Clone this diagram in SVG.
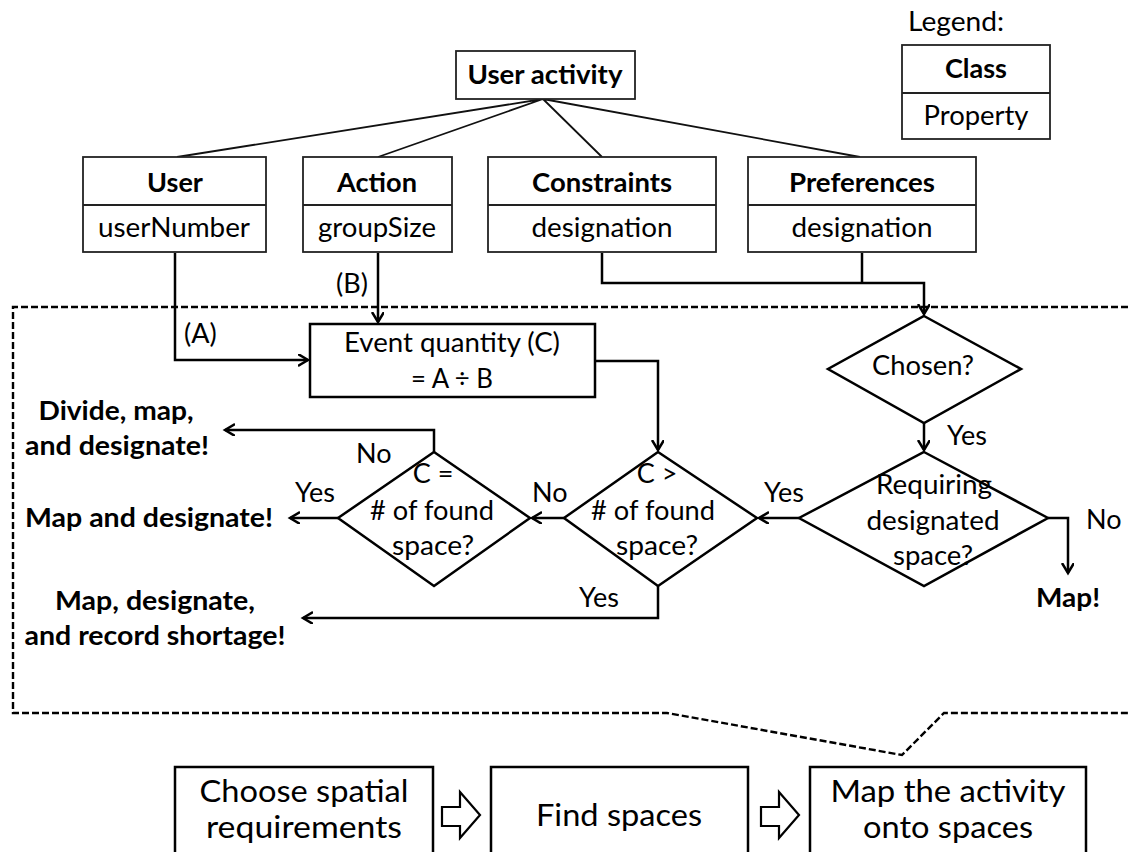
<svg xmlns="http://www.w3.org/2000/svg" width="1128" height="852" viewBox="0 0 1128 852">
  <style>
    text { font-family: Lato, "Open Sans", "Liberation Sans", sans-serif; fill: #000; }
    .t { font-size: 27px; text-anchor: middle; }
    .b { font-size: 27px; font-weight: bold; text-anchor: middle; }
    .l { font-size: 27px; }
    .big { font-size: 31px; text-anchor: middle; }
    .cls { fill: #fff; stroke: #222; stroke-width: 1.8; }
    .box { fill: #fff; stroke: #000; stroke-width: 2.5; }
    .dia { fill: none; stroke: #000; stroke-width: 2.5; }
    .tree { fill: none; stroke: #111; stroke-width: 1.8; }
    .wire { fill: none; stroke: #000; stroke-width: 2.5; }
    .arrow { fill: none; stroke: #000; stroke-width: 2.5; marker-end: url(#head); }
    .frame { fill: none; stroke: #000; stroke-width: 2.4; stroke-dasharray: 7 3; }
    .hollow { fill: #fff; stroke: #000; stroke-width: 2.2; stroke-linejoin: miter; }
  </style>
  <defs>
    <marker id="head" markerUnits="userSpaceOnUse" markerWidth="14" markerHeight="14" refX="10" refY="6" orient="auto">
      <path d="M0,0 L10,6 L0,12" fill="none" stroke="#000" stroke-width="2.5"/>
    </marker>
  </defs>

  <rect width="1128" height="852" fill="#fff"/>

  <!-- dashed frame around the mapping step -->
  <path class="frame" d="M1128,307 H13 V713 H667 L902,755 L944,713 H1128"/>

  <!-- connectors -->
  <g id="connectors">
    <path class="tree" d="M543,99 L177,157 M543,99 L378,157 M543,99 L602,157 M543,99 L860,157"/>
    <path class="arrow" d="M175,253 V360 H308"/>
    <path class="arrow" d="M378,253 V322"/>
    <path class="wire" d="M862,253 V283"/>
    <path class="arrow" d="M602,253 V283 H924 V314"/>
    <path class="arrow" d="M595,361 H658 V450"/>
    <path class="arrow" d="M924,423 V450"/>
    <path class="arrow" d="M799,518 H759"/>
    <path class="arrow" d="M1048,518 H1068 V573"/>
    <path class="arrow" d="M564,518 H532"/>
    <path class="arrow" d="M658,586 V618 H303"/>
    <path class="arrow" d="M338,518 H290"/>
    <path class="arrow" d="M434,452 V430 H225"/>
    <text class="l" x="336" y="293">(B)</text>
    <text class="l" x="184" y="343">(A)</text>
    <text class="l" x="356" y="463">No</text>
    <text class="l" x="295" y="502">Yes</text>
    <text class="l" x="532" y="502">No</text>
    <text class="l" x="579" y="607">Yes</text>
    <text class="l" x="764" y="502">Yes</text>
    <text class="l" x="947" y="445">Yes</text>
    <text class="l" x="1086" y="529">No</text>
  </g>

  <!-- class nodes -->
  <g id="user-activity">
    <rect class="cls" x="456" y="51" width="179" height="48"/>
    <text class="b" x="545" y="84" textLength="155" lengthAdjust="spacingAndGlyphs">User activity</text>
  </g>
  <g id="user">
    <rect class="cls" x="83" y="157" width="183" height="95"/>
    <line class="cls" x1="83" y1="205" x2="266" y2="205"/>
    <text class="b" x="175" y="192">User</text>
    <text class="t" x="174" y="237" textLength="152" lengthAdjust="spacingAndGlyphs">userNumber</text>
  </g>
  <g id="action">
    <rect class="cls" x="303" y="157" width="149" height="95"/>
    <line class="cls" x1="303" y1="205" x2="452" y2="205"/>
    <text class="b" x="377" y="192" textLength="80" lengthAdjust="spacingAndGlyphs">Action</text>
    <text class="t" x="377" y="237" textLength="118" lengthAdjust="spacingAndGlyphs">groupSize</text>
  </g>
  <g id="constraints">
    <rect class="cls" x="488" y="157" width="228" height="95"/>
    <line class="cls" x1="488" y1="205" x2="716" y2="205"/>
    <text class="b" x="602" y="192" textLength="140" lengthAdjust="spacingAndGlyphs">Constraints</text>
    <text class="t" x="602" y="237" textLength="141" lengthAdjust="spacingAndGlyphs">designation</text>
  </g>
  <g id="preferences">
    <rect class="cls" x="748" y="157" width="228" height="95"/>
    <line class="cls" x1="748" y1="205" x2="976" y2="205"/>
    <text class="b" x="862" y="192" textLength="146" lengthAdjust="spacingAndGlyphs">Preferences</text>
    <text class="t" x="862" y="237" textLength="141" lengthAdjust="spacingAndGlyphs">designation</text>
  </g>
  <g id="legend">
    <text class="l" x="908" y="31" textLength="96" lengthAdjust="spacingAndGlyphs">Legend:</text>
    <rect class="cls" x="902" y="45" width="148" height="94"/>
    <line class="cls" x1="902" y1="93" x2="1050" y2="93"/>
    <text class="b" x="976" y="78">Class</text>
    <text class="t" x="976" y="125" textLength="105" lengthAdjust="spacingAndGlyphs">Property</text>
  </g>

  <!-- flow nodes -->
  <g id="event-quantity">
    <rect class="box" x="310" y="324" width="285" height="73"/>
    <text class="t" x="452" y="352" textLength="216" lengthAdjust="spacingAndGlyphs">Event quantity (C)</text>
    <text class="t" x="452" y="388" textLength="82" lengthAdjust="spacingAndGlyphs">= A ÷ B</text>
  </g>
  <g id="chosen">
    <polygon class="dia" points="924,316 1021,369 924,423 828,369"/>
    <text class="t" x="923" y="375" textLength="102" lengthAdjust="spacingAndGlyphs">Chosen?</text>
  </g>
  <g id="requiring">
    <polygon class="dia" points="924,452 1048,518 924,586 799,518"/>
    <text class="t" x="934" y="494" textLength="116" lengthAdjust="spacingAndGlyphs">Requiring</text>
    <text class="t" x="933" y="530" textLength="133" lengthAdjust="spacingAndGlyphs">designated</text>
    <text class="t" x="933" y="565" textLength="80" lengthAdjust="spacingAndGlyphs">space?</text>
  </g>
  <g id="c-greater">
    <polygon class="dia" points="658,452 757,518 658,586 564,518"/>
    <text class="t" x="657" y="483">C &gt;</text>
    <text class="t" x="653" y="520" textLength="124" lengthAdjust="spacingAndGlyphs"># of found</text>
    <text class="t" x="657" y="555" textLength="82" lengthAdjust="spacingAndGlyphs">space?</text>
  </g>
  <g id="c-equal">
    <polygon class="dia" points="434,452 530,518 434,586 338,518"/>
    <text class="t" x="433" y="483">C =</text>
    <text class="t" x="432" y="520" textLength="124" lengthAdjust="spacingAndGlyphs"># of found</text>
    <text class="t" x="433" y="555" textLength="82" lengthAdjust="spacingAndGlyphs">space?</text>
  </g>

  <!-- outcomes -->
  <g id="divide-map-designate">
    <text class="b" x="116" y="420" textLength="155" lengthAdjust="spacingAndGlyphs">Divide, map,</text>
    <text class="b" x="117" y="455" textLength="184" lengthAdjust="spacingAndGlyphs">and designate!</text>
  </g>
  <g id="map-designate">
    <text class="b" x="149" y="527" textLength="248" lengthAdjust="spacingAndGlyphs">Map and designate!</text>
  </g>
  <g id="map-designate-record">
    <text class="b" x="155" y="610" textLength="200" lengthAdjust="spacingAndGlyphs">Map, designate,</text>
    <text class="b" x="155" y="645" textLength="261" lengthAdjust="spacingAndGlyphs">and record shortage!</text>
  </g>
  <g id="map">
    <text class="b" x="1068" y="607" textLength="64" lengthAdjust="spacingAndGlyphs">Map!</text>
  </g>

  <!-- process steps -->
  <g id="step-choose">
    <rect class="box" x="175" y="767" width="258" height="100"/>
    <text class="big" x="304" y="802" textLength="209" lengthAdjust="spacingAndGlyphs">Choose spatial</text>
    <text class="big" x="304" y="838" textLength="196" lengthAdjust="spacingAndGlyphs">requirements</text>
  </g>
  <g id="step-find">
    <rect class="box" x="491" y="767" width="257" height="100"/>
    <text class="big" x="619" y="826" textLength="166" lengthAdjust="spacingAndGlyphs">Find spaces</text>
  </g>
  <g id="step-map">
    <rect class="box" x="810" y="767" width="276" height="100"/>
    <text class="big" x="948" y="802" textLength="235" lengthAdjust="spacingAndGlyphs">Map the activity</text>
    <text class="big" x="948" y="838" textLength="170" lengthAdjust="spacingAndGlyphs">onto spaces</text>
  </g>
  <g id="step-arrows">
    <polygon class="hollow" points="442,807 460,807 460,792 480,815 460,838 460,826 442,826"/>
    <polygon class="hollow" points="761,807 779,807 779,792 799,815 779,838 779,826 761,826"/>
  </g>
</svg>
